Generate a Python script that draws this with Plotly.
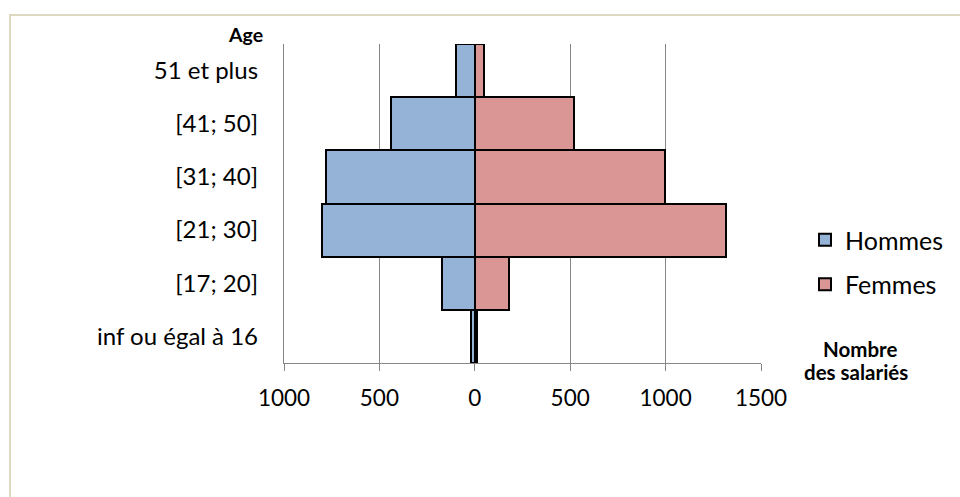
import plotly.graph_objects as go

categories = ["inf ou égal à 16", "[17; 20]", "[21; 30]", "[31; 40]", "[41; 50]", "51 et plus"]
hommes = [20, 170, 800, 780, 440, 100]
femmes = [12, 180, 1315, 995, 520, 50]
tick_vals = [-1000, -500, 0, 500, 1000, 1500]
tick_text = ["1000", "500", "0", "500", "1000", "1500"]

FONT = "Lato"

fig = go.Figure()
fig.add_trace(go.Bar(
    y=categories, x=[-v for v in hommes], orientation="h", name="Hommes",
    marker=dict(color="#95b3d7", line=dict(color="#000000", width=2)),
    customdata=hommes, hovertemplate="%{y}: %{customdata}<extra>Hommes</extra>",
    legendgroup="h",
))
fig.add_trace(go.Bar(
    y=categories, x=femmes, orientation="h", name="Femmes",
    marker=dict(color="#d99694", line=dict(color="#000000", width=2)),
    legendgroup="f",
))

L, T = 284, 44
W, H = 477, 319

def px(xp):
    return (xp - L) / W

def py(yp):
    return (T + H - yp) / H

fig.update_layout(
    width=960, height=497,
    margin=dict(l=L, r=960 - L - W, t=T, b=497 - T - H, autoexpand=False),
    paper_bgcolor="white", plot_bgcolor="white",
    barmode="relative", bargap=0,
    font=dict(family=FONT, size=24, color="#000000"),
    showlegend=True,
    legend=dict(x=px(805), y=py(262), xanchor="left", yanchor="middle",
                font=dict(size=25), tracegroupgap=9, traceorder="grouped",
                bgcolor="rgba(0,0,0,0)"),
    xaxis=dict(range=[-1000, 1500], tickvals=tick_vals, ticktext=tick_text,
               showgrid=True, gridcolor="#868686", gridwidth=1.3,
               showline=True, linecolor="#868686", linewidth=1.3,
               ticks="outside", ticklen=7, tickcolor="#868686", tickwidth=1.3,
               ticklabelstandoff=8,
               zeroline=False, tickfont=dict(size=22.5), fixedrange=True),
    yaxis=dict(categoryorder="array", categoryarray=categories,
               showgrid=False, showline=True, linecolor="#868686", linewidth=1.3,
               ticks="", ticklabelstandoff=20, tickfont=dict(size=24),
               zeroline=False, fixedrange=True),
    annotations=[
        dict(text="<b>Age</b>", x=px(245.5), y=py(35), xref="paper", yref="paper",
             showarrow=False, xanchor="center", yanchor="middle",
             font=dict(family=FONT, size=19.5)),
        dict(text="<b>Nombre</b>", x=px(859.5), y=py(349),
             xref="paper", yref="paper", showarrow=False, xanchor="center",
             yanchor="middle", font=dict(family=FONT, size=20.5)),
        dict(text="<b>des salariés</b>", x=px(856), y=py(372),
             xref="paper", yref="paper", showarrow=False, xanchor="center",
             yanchor="middle", font=dict(family=FONT, size=20.5)),
    ],
    shapes=[
        dict(type="rect", xref="paper", yref="paper",
             x0=px(10), x1=px(990), y0=py(15), y1=py(530),
             line=dict(color="#ddd8c0", width=2), fillcolor="rgba(0,0,0,0)",
             layer="below"),
    ],
)

fig.write_html("out.html", config={"displayModeBar": False},
               post_script="document.body.style.margin='0px';document.body.style.overflow='hidden';")
